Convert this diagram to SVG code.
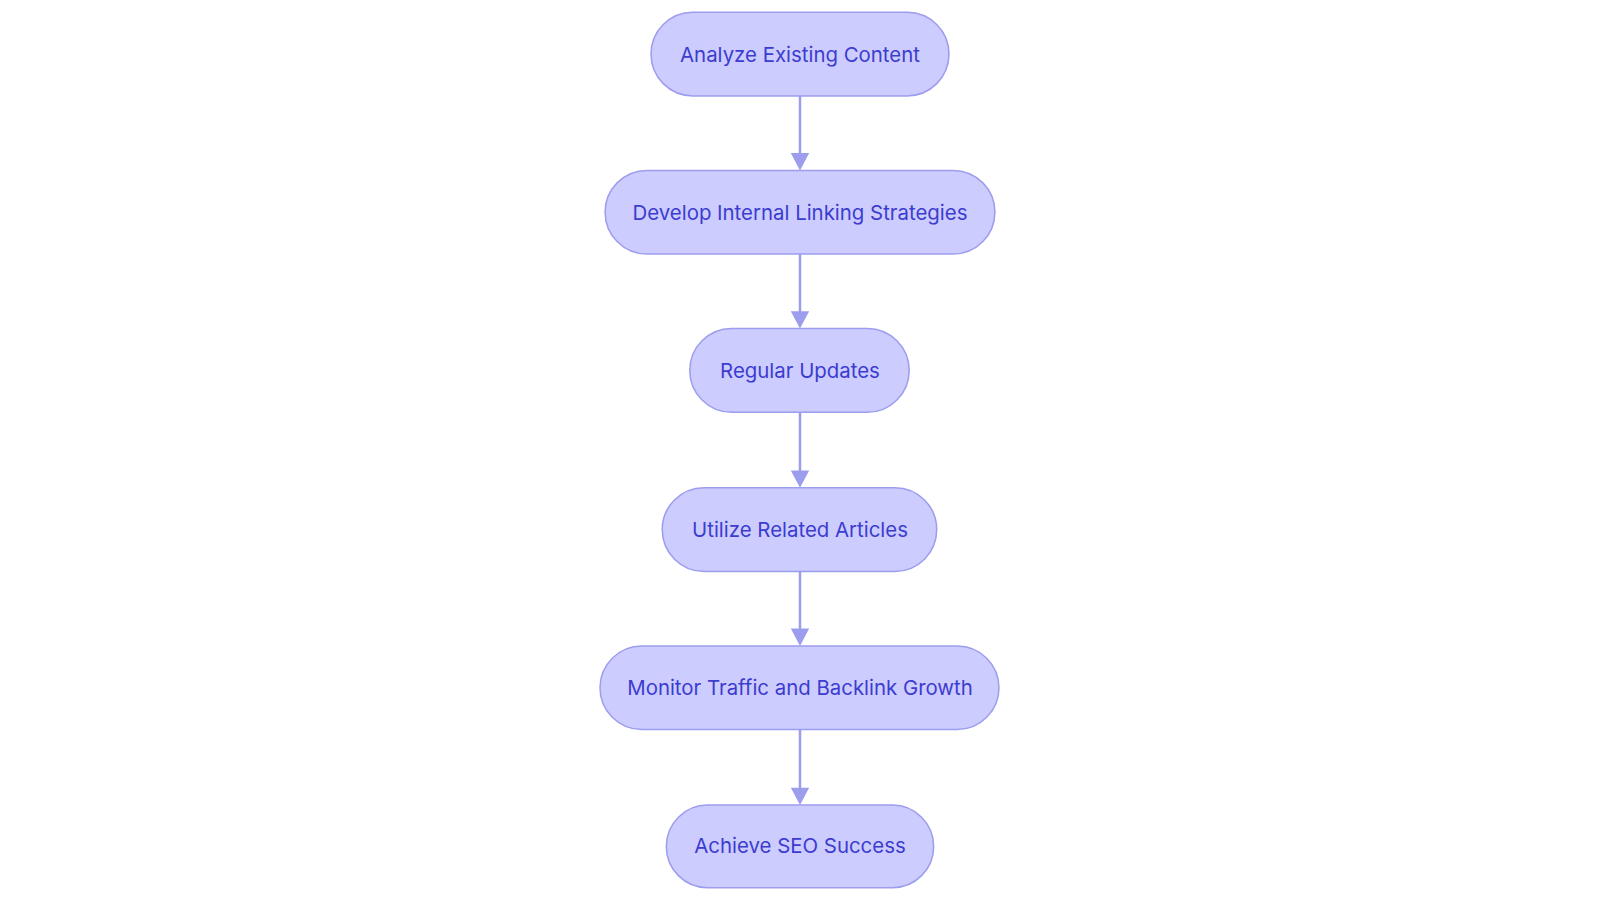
<svg xmlns="http://www.w3.org/2000/svg" width="1600" height="903" viewBox="0 0 1600 903">
<style>
.n rect{fill:#CCCCFF;stroke:#9D9DEE;stroke-width:1.5}
.n text{font-family:Inter,"Noto Sans",sans-serif;font-size:20px;fill:#3C3CCF;text-anchor:middle;dominant-baseline:central}
.c line{stroke:#9D9DEE;stroke-width:2.5}
</style>
<rect width="1600" height="903" fill="#fff"/>
<g transform="scale(1.0204)">
<g class="c">
<line x1="784" y1="94" x2="784" y2="152"/>
<line x1="784" y1="249" x2="784" y2="307"/>
<line x1="784" y1="404" x2="784" y2="463"/>
<line x1="784" y1="560" x2="784" y2="618"/>
<line x1="784" y1="715" x2="784" y2="774"/>
<path d="M775,150L793,150L784,167z M775,305L793,305L784,322z M775,461L793,461L784,478z M775,616L793,616L784,633z M775,772L793,772L784,789z" fill="#9D9DEE"/>
</g>
<g id="n1" class="n"><rect x="638" y="12" width="292" height="82" rx="41"/><text x="784" y="53">Analyze Existing Content</text></g>
<g id="n2" class="n"><rect x="593" y="167" width="382" height="82" rx="41"/><text x="784" y="208">Develop Internal Linking Strategies</text></g>
<g id="n3" class="n"><rect x="676" y="322" width="215" height="82" rx="41"/><text x="784" y="363">Regular Updates</text></g>
<g id="n4" class="n"><rect x="649" y="478" width="269" height="82" rx="41"/><text x="784" y="519">Utilize Related Articles</text></g>
<g id="n5" class="n"><rect x="588" y="633" width="391" height="82" rx="41"/><text x="784" y="674">Monitor Traffic and Backlink Growth</text></g>
<g id="n6" class="n"><rect x="653" y="789" width="262" height="81" rx="40.5"/><text x="784" y="829">Achieve SEO Success</text></g>
</g>
</svg>
